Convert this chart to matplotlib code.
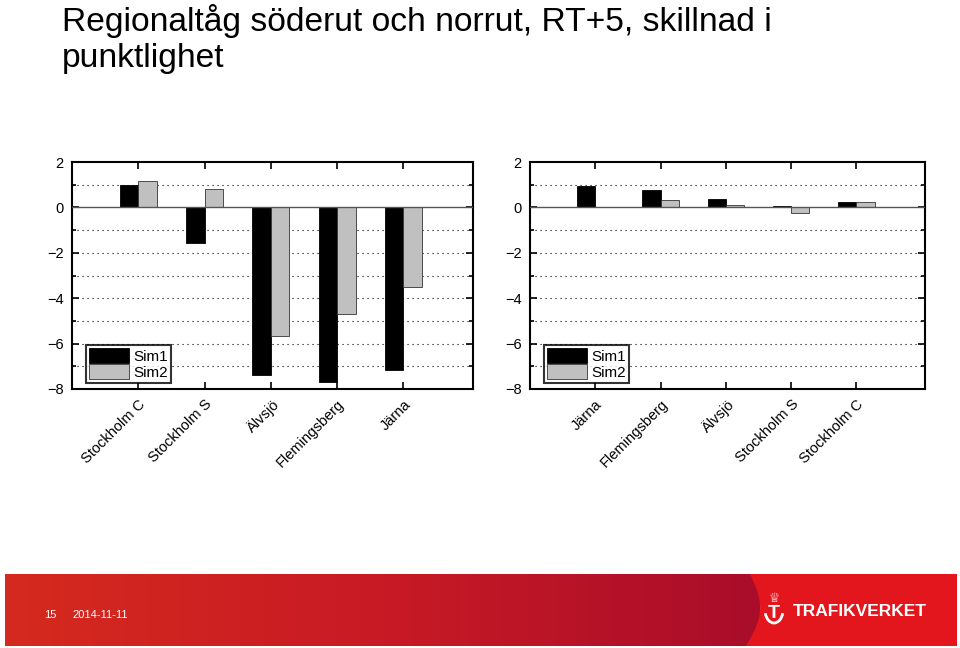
import numpy as np
import matplotlib.pyplot as plt
from matplotlib.patches import Polygon, Arc
from matplotlib.colors import LinearSegmentedColormap

plt.rcParams['font.family'] = ['Liberation Sans', 'DejaVu Sans']

# data
stations_south = ['Stockholm C', 'Stockholm S', 'Älvsjö', 'Flemingsberg', 'Järna']
south_sim1 = [0.97, -1.55, -7.40, -7.68, -7.16]
south_sim2 = [1.17, 0.81, -5.65, -4.69, -3.50]

stations_north = ['Järna', 'Flemingsberg', 'Älvsjö', 'Stockholm S', 'Stockholm C']
north_sim1 = [0.95, 0.78, 0.37, 0.07, 0.23]
north_sim2 = [0.03, 0.32, 0.10, -0.25, 0.23]

series_names = ['Sim1', 'Sim2']
y_major = [2, 0, -2, -4, -6, -8]
y_grid = [1, -1, -2, -3, -4, -5, -6, -7]

title = 'Regionaltåg söderut och norrut, RT+5, skillnad i\npunktlighet'
page_no = '15'
date_str = '2014-11-11'

W, H = 960, 648
fig = plt.figure(figsize=(W / 100, H / 100), dpi=100)


def draw_panel(rect, labels, s1, s2):
    ax = fig.add_axes(rect)
    x = np.arange(1, len(labels) + 1)
    w = 0.28
    ax.bar(x - w / 2, s1, w, color='black', edgecolor='black', linewidth=0.6,
           label=series_names[0], zorder=3)
    ax.bar(x + w / 2, s2, w, color='#c0c0c0', edgecolor='#333333', linewidth=0.6,
           label=series_names[1], zorder=3)
    ax.set_xlim(0, 6.05)
    ax.set_ylim(-8, 2)
    for g in y_grid:
        ax.axhline(g, color='black', linestyle=(0, (1, 3.5)), linewidth=0.8, zorder=1)
    ax.axhline(0, color='#555555', linewidth=1.0, zorder=4)
    ax.set_yticks(y_major)
    ax.set_yticklabels([('\u2212' + str(-v)) if v < 0 else str(v) for v in y_major])
    ax.set_yticks([1, -1, -3, -5, -7], minor=True)
    ax.set_xticks(x)
    ax.set_xticklabels(labels, rotation=45, ha='right', rotation_mode='anchor')
    ax.tick_params(axis='both', which='both', direction='in', top=True, right=True,
                   labelsize=10.5, width=1.2)
    ax.tick_params(axis='x', length=5, pad=6)
    ax.tick_params(axis='y', which='major', length=5, pad=6)
    ax.tick_params(axis='y', which='minor', length=3)
    for sp in ax.spines.values():
        sp.set_linewidth(1.5)
    leg = ax.legend(loc='lower left', bbox_to_anchor=(14 / 401, 6 / 227),
                    fontsize=11, frameon=True, fancybox=False,
                    borderpad=0.2, handlelength=2.6, handleheight=1.1,
                    handletextpad=0.3, labelspacing=0.05, borderaxespad=0)
    leg.get_frame().set_edgecolor('black')
    leg.get_frame().set_linewidth(1.5)
    return ax


draw_panel([72 / W, 1 - 389 / H, 401 / W, 227 / H], stations_south, south_sim1, south_sim2)
draw_panel([530 / W, 1 - 389 / H, 395 / W, 227 / H], stations_north, north_sim1, north_sim2)

fig.text(62 / W, 1 - 4 / H, title, fontsize=24.2, va='top', ha='left',
         linespacing=1.2)

# footer banner with gradient
bax = fig.add_axes([5 / W, 2 / H, 952 / W, 72 / H])
bax.set_xlim(0, 952)
bax.set_ylim(0, 72)
bax.axis('off')
cmap = LinearSegmentedColormap.from_list('tv', ['#d52a1e', '#c81a25', '#a90d2a'])
grad = np.linspace(0, 1, 256).reshape(1, -1)
bax.imshow(grad, extent=[0, 755, 0, 72], aspect='auto', cmap=cmap, zorder=1)
ts = np.linspace(0, 1, 40)
curve_x = 745 + 12 * np.sin(np.pi * ts) - 4 * ts
curve_y = 72 * (1 - ts)
pts = list(zip(curve_x, curve_y)) + [(952, 0), (952, 72)]
bax.add_patch(Polygon(pts, closed=True, facecolor='#e3161d', edgecolor='none', zorder=2))
bax.set_xlim(0, 952)
bax.text(39, 31, page_no, color='white', fontsize=8, va='center', ha='left')
bax.text(67, 31, date_str, color='white', fontsize=8, va='center', ha='left')
bax.text(788, 35, 'TRAFIKVERKET', color='white', fontsize=12.5, fontweight='bold',
         va='center', ha='left')
bax.text(769, 33, 'T', color='white', fontsize=14, fontweight='bold', va='center',
         ha='center', zorder=3)
bax.add_patch(Arc((769, 36), 18, 26, theta1=200, theta2=340, color='white', lw=2, zorder=3))
bax.text(769, 47, '\u2655', color='white', fontsize=9, va='center', ha='center',
         family='DejaVu Sans', zorder=3)

fig.savefig('out.png', dpi=100)
